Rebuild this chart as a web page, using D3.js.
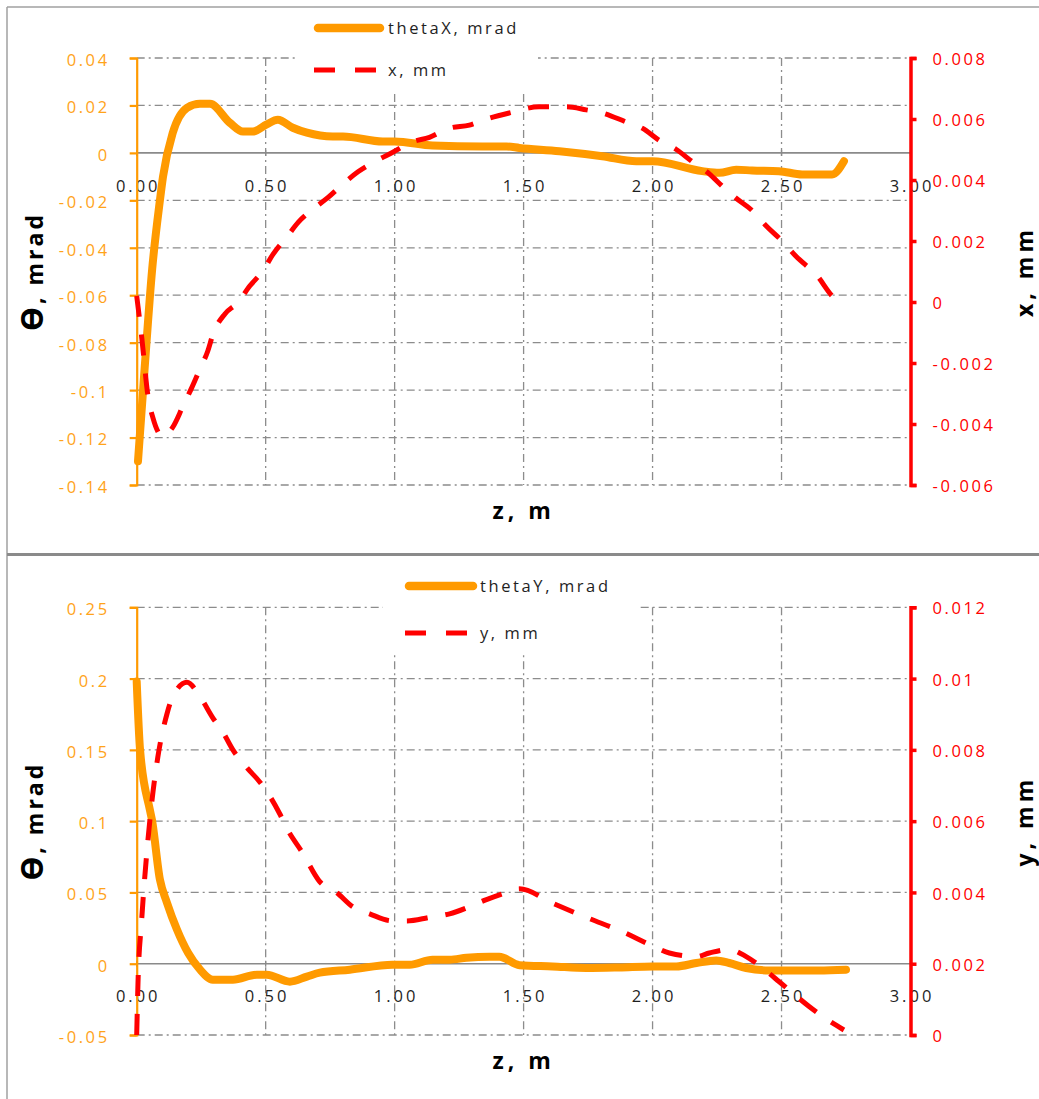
<!DOCTYPE html>
<html><head><meta charset="utf-8">
<script src="https://cdn.jsdelivr.net/npm/d3@7"></script>
<style>html,body{margin:0;padding:0;background:#fff;} svg{display:block;}</style>
</head><body>
<svg id="c" width="1039" height="1099"></svg>
<script>
// ---------- data ----------
const zTicks = [0, 0.5, 1, 1.5, 2, 2.5, 3];
const zTickLabels = ["0.00", "0.50", "1.00", "1.50", "2.00", "2.50", "3.00"];

const thetaXTicks = [0.04, 0.02, 0, -0.02, -0.04, -0.06, -0.08, -0.1, -0.12, -0.14];
const thetaXTickLabels = ["0.04", "0.02", "0", "-0.02", "-0.04", "-0.06", "-0.08", "-0.1", "-0.12", "-0.14"];
const xmmTicks = [0.008, 0.006, 0.004, 0.002, 0, -0.002, -0.004, -0.006];
const xmmTickLabels = ["0.008", "0.006", "0.004", "0.002", "0", "-0.002", "-0.004", "-0.006"];

const thetaYTicks = [0.25, 0.2, 0.15, 0.1, 0.05, 0, -0.05];
const thetaYTickLabels = ["0.25", "0.2", "0.15", "0.1", "0.05", "0", "-0.05"];
const ymmTicks = [0.012, 0.01, 0.008, 0.006, 0.004, 0.002, 0];
const ymmTickLabels = ["0.012", "0.01", "0.008", "0.006", "0.004", "0.002", "0"];

const thetaX_z = [0.005, 0.03, 0.06, 0.09, 0.102, 0.14, 0.195, 0.245, 0.284, 0.361, 0.412, 0.45, 0.504, 0.547, 0.605, 0.66, 0.76, 0.8, 0.954, 1.0, 1.147, 1.34, 1.434, 1.484, 1.639, 1.805, 1.937, 1.999, 2.193, 2.259, 2.324, 2.386, 2.49, 2.58, 2.696, 2.742];
const thetaX_val = [-0.130, -0.092, -0.049, -0.020, -0.010, 0.0085, 0.019, 0.0207, 0.0207, 0.0127, 0.009, 0.009, 0.012, 0.014, 0.0106, 0.0085, 0.0069, 0.0069, 0.0048, 0.0048, 0.0031, 0.0027, 0.0027, 0.0021, 0.0007, -0.0014, -0.0035, -0.0035, -0.0077, -0.0084, -0.0071, -0.0074, -0.0077, -0.0091, -0.0091, -0.0035];

const x_z = [0, 0.02, 0.044, 0.063, 0.10, 0.14, 0.18, 0.214, 0.245, 0.276, 0.296, 0.342, 0.393, 0.439, 0.49, 0.529, 0.581, 0.626, 0.684, 0.742, 0.8, 0.858, 0.929, 0.993, 1.065, 1.135, 1.213, 1.29, 1.356, 1.445, 1.56, 1.666, 1.743, 1.805, 1.898, 1.96, 2.026, 2.092, 2.154, 2.22, 2.27, 2.324, 2.386, 2.44, 2.502, 2.556, 2.634, 2.71, 2.75];
const x_val = [0.0002, -0.0012, -0.0031, -0.0038, -0.0044, -0.0041, -0.0034, -0.0028, -0.0022, -0.0016, -0.00105, -0.00039, -0.00001, 0.00053, 0.00103, 0.00157, 0.00212, 0.00261, 0.00305, 0.00343, 0.00387, 0.00427, 0.00463, 0.00491, 0.00524, 0.0054, 0.0057, 0.0058, 0.0060, 0.0062, 0.0064, 0.0064, 0.0063, 0.0062, 0.0059, 0.0057, 0.0053, 0.0050, 0.0046, 0.0042, 0.0038, 0.0034, 0.0030, 0.0025, 0.0020, 0.0015, 0.0009, 0.0001, 0.0];

const thetaY_z = [0, 0.013, 0.051, 0.059, 0.09, 0.117, 0.156, 0.199, 0.245, 0.295, 0.373, 0.466, 0.504, 0.594, 0.66, 0.71, 0.826, 0.992, 1.058, 1.147, 1.213, 1.279, 1.368, 1.406, 1.484, 1.612, 1.743, 1.871, 2.0, 2.092, 2.17, 2.247, 2.297, 2.363, 2.452, 2.645, 2.75];
const thetaY_val = [0.198, 0.15, 0.108, 0.101, 0.059, 0.043, 0.024, 0.0077, -0.004, -0.0112, -0.0112, -0.0077, -0.0077, -0.0126, -0.009, -0.0063, -0.0042, -0.0007, -0.0007, 0.0028, 0.0028, 0.0042, 0.0049, 0.0049, -0.001, -0.0019, -0.003, -0.0026, -0.0019, -0.0019, 0.0005, 0.0023, 0.0005, -0.003, -0.0047, -0.0047, -0.0042];

const y_z = [0, 0.005, 0.019, 0.039, 0.058, 0.082, 0.117, 0.14, 0.195, 0.245, 0.295, 0.334, 0.373, 0.427, 0.477, 0.516, 0.555, 0.582, 0.644, 0.71, 0.775, 0.837, 0.903, 0.992, 1.046, 1.135, 1.213, 1.29, 1.356, 1.434, 1.484, 1.612, 1.743, 1.883, 2.0, 2.065, 2.17, 2.22, 2.297, 2.363, 2.44, 2.49, 2.556, 2.607, 2.684, 2.742];
const y_val = [0, 0.00146, 0.0032, 0.0051, 0.0065, 0.0078, 0.0090, 0.0095, 0.0099, 0.0095, 0.0089, 0.0085, 0.0080, 0.0075, 0.0071, 0.0067, 0.0062, 0.0058, 0.0051, 0.0043, 0.0040, 0.0036, 0.0034, 0.0032, 0.0032, 0.0033, 0.0034, 0.0036, 0.0038, 0.0040, 0.0041, 0.0037, 0.0033, 0.0029, 0.0025, 0.0023, 0.0022, 0.0023, 0.0024, 0.0022, 0.0018, 0.0015, 0.0011, 0.0008, 0.0004, 0.00014];

// ---------- style ----------
const ORANGE = "#ff9a00";
const ORANGE_TXT = "#ffa31a";
const RED = "#ff0000";
const GRID = "#8c8c8c";
const FONT = "'Open Sans', Lato, sans-serif";
const TXT = "#1f1f1f";
const TW = 500;

const svg = d3.select("#c");

// panel frames
svg.append("line").attr("x1", 7).attr("x2", 1039).attr("y1", 7).attr("y2", 7).attr("stroke", "#a0a0a0").attr("stroke-width", 1.5);
svg.append("line").attr("x1", 7).attr("x2", 7).attr("y1", 7).attr("y2", 1099).attr("stroke", "#a0a0a0").attr("stroke-width", 1.5);
svg.append("line").attr("x1", 7).attr("x2", 1039).attr("y1", 554.5).attr("y2", 554.5).attr("stroke", "#8a8a8a").attr("stroke-width", 3);

const panels = [
  {
    top: 58, bottom: 485,
    leftDomain: [-0.14, 0.04], leftTicks: thetaXTicks, leftLabels: thetaXTickLabels,
    rightDomain: [-0.006, 0.008], rightTicks: xmmTicks, rightLabels: xmmTickLabels,
    s1z: thetaX_z, s1v: thetaX_val, s1name: "thetaX, mrad",
    s2z: x_z, s2v: x_val, s2name: "x, mm",
    rightTitle: "x, mm",
    legend: {x: 297, y: 10, w: 241, h: 82, lx1: 314, lx2: 384, ly1: 28, ly2: 70, tx: 388}
  },
  {
    top: 607.3, bottom: 1035,
    leftDomain: [-0.05, 0.25], leftTicks: thetaYTicks, leftLabels: thetaYTickLabels,
    rightDomain: [0, 0.012], rightTicks: ymmTicks, rightLabels: ymmTickLabels,
    s1z: thetaY_z, s1v: thetaY_val, s1name: "thetaY, mrad",
    s2z: y_z, s2v: y_val, s2name: "y, mm",
    rightTitle: "y, mm",
    legend: {x: 383, y: 560, w: 254, h: 95, lx1: 405, lx2: 477, ly1: 586, ly2: 633, tx: 480}
  }
];

const xScale = d3.scaleLinear().domain([0, 3]).range([136.7, 910.5]);

panels.forEach(p => {
  const g = svg.append("g");
  const yL = d3.scaleLinear().domain(p.leftDomain).range([p.bottom, p.top]);
  const yR = d3.scaleLinear().domain(p.rightDomain).range([p.bottom, p.top]);
  const x0 = xScale(0), x1 = xScale(3);

  // horizontal grid (primary axis)
  g.append("g").selectAll("line").data(p.leftTicks.filter(v => v !== 0)).join("line")
    .attr("x1", x0).attr("x2", x1).attr("y1", d => yL(d)).attr("y2", d => yL(d))
    .attr("stroke", GRID).attr("stroke-width", 1.3).attr("stroke-dasharray", "8,4,2,4");
  // vertical grid
  g.append("g").selectAll("line").data(zTicks.filter(v => v > 0 && v < 3)).join("line")
    .attr("x1", d => xScale(d)).attr("x2", d => xScale(d)).attr("y1", p.top).attr("y2", p.bottom)
    .attr("stroke", GRID).attr("stroke-width", 1.3).attr("stroke-dasharray", "8,4,2,4");

  // zero line (category axis)
  const y0 = yL(0);
  g.append("line").attr("x1", x0).attr("x2", x1).attr("y1", y0).attr("y2", y0)
    .attr("stroke", "#8a8a8a").attr("stroke-width", 1.6);
  g.append("g").selectAll("line").data(zTicks).join("line")
    .attr("x1", d => xScale(d)).attr("x2", d => xScale(d)).attr("y1", y0 - 3).attr("y2", y0 + 3)
    .attr("stroke", "#8a8a8a").attr("stroke-width", 1.3);

  // x tick labels
  g.append("g").selectAll("text").data(zTicks).join("text")
    .attr("x", d => xScale(d) + 1.5).attr("y", y0 + 33).attr("dy", "0.35em")
    .attr("text-anchor", "middle").attr("font-family", FONT).attr("font-size", 16.5)
    .attr("font-weight", TW).attr("letter-spacing", 3).attr("fill", TXT)
    .text((d, i) => zTickLabels[i]);

  // left axis
  const axL = d3.axisLeft(yL).tickValues(p.leftTicks).tickSize(7).tickPadding(20)
    .tickFormat((d, i) => p.leftLabels[i]);
  const gL = g.append("g").attr("transform", `translate(${x0},0)`).call(axL);
  gL.select(".domain").attr("stroke", ORANGE).attr("stroke-width", 2.2);
  gL.selectAll(".tick line").attr("stroke", ORANGE).attr("stroke-width", 2.2);
  gL.selectAll(".tick text").attr("fill", ORANGE_TXT).attr("font-family", FONT)
    .attr("font-size", 16.5).attr("font-weight", TW).attr("letter-spacing", 2.6).attr("dy", "0.45em");

  // right axis
  const axR = d3.axisRight(yR).tickValues(p.rightTicks).tickSize(6).tickPadding(16)
    .tickFormat((d, i) => p.rightLabels[i]);
  const gR = g.append("g").attr("transform", `translate(${x1},0)`).call(axR);
  gR.select(".domain").attr("stroke", RED).attr("stroke-width", 3.5);
  gR.selectAll(".tick line").attr("stroke", RED).attr("stroke-width", 3.5);
  gR.selectAll(".tick text").attr("fill", RED).attr("font-family", FONT)
    .attr("font-size", 16.5).attr("font-weight", TW).attr("letter-spacing", 2.6).attr("dy", "0.4em");

  // series
  const line1 = d3.line().x(d => xScale(d[0])).y(d => yL(d[1])).curve(d3.curveMonotoneX);
  const line2 = d3.line().x(d => xScale(d[0])).y(d => yR(d[1])).curve(d3.curveMonotoneX);
  g.append("path").datum(p.s1z.map((z, i) => [z, p.s1v[i]]))
    .attr("d", line1).attr("fill", "none").attr("stroke", ORANGE).attr("stroke-width", 8)
    .attr("stroke-linejoin", "round").attr("stroke-linecap", "round");
  g.append("path").datum(p.s2z.map((z, i) => [z, p.s2v[i]]))
    .attr("d", line2).attr("fill", "none").attr("stroke", RED).attr("stroke-width", 5)
    .attr("stroke-dasharray", "21,18");

  // legend
  const L = p.legend;
  g.append("rect").attr("x", L.x).attr("y", L.y).attr("width", L.w).attr("height", L.h).attr("fill", "#fff");
  g.append("line").attr("x1", L.lx1 + 4).attr("x2", L.lx2 - 4).attr("y1", L.ly1).attr("y2", L.ly1)
    .attr("stroke", ORANGE).attr("stroke-width", 8.5).attr("stroke-linecap", "round");
  g.append("line").attr("x1", L.lx1).attr("x2", L.lx2).attr("y1", L.ly2).attr("y2", L.ly2)
    .attr("stroke", RED).attr("stroke-width", 5).attr("stroke-dasharray", "21,20");
  g.append("text").attr("x", L.tx).attr("y", L.ly1).attr("dy", "0.35em")
    .attr("font-family", FONT).attr("font-size", 16.5).attr("font-weight", TW).attr("letter-spacing", 2.6).attr("fill", TXT).text(p.s1name);
  g.append("text").attr("x", L.tx).attr("y", L.ly2).attr("dy", "0.35em")
    .attr("font-family", FONT).attr("font-size", 16.5).attr("font-weight", TW).attr("letter-spacing", 2.6).attr("fill", TXT).text(p.s2name);

  // axis titles
  const midY = (p.top + p.bottom) / 2;
  const tl = g.append("text").attr("transform", `translate(35,${midY}) rotate(-90)`)
    .attr("text-anchor", "middle").attr("dy", "0.35em").attr("font-family", FONT)
    .attr("font-weight", "bold").attr("font-size", 23).attr("letter-spacing", 3).attr("fill", "#000");
  tl.append("tspan").attr("font-size", 30).text("Ө");
  tl.append("tspan").text(", mrad");
  g.append("text").attr("transform", `translate(1025,${midY}) rotate(-90)`)
    .attr("text-anchor", "middle").attr("dy", "0.35em").attr("font-family", FONT)
    .attr("font-weight", "bold").attr("font-size", 23).attr("letter-spacing", 4).attr("fill", "#000")
    .text(p.rightTitle);
  g.append("text").attr("x", (x0 + x1) / 2).attr("y", p.bottom + 26).attr("dy", "0.35em")
    .attr("text-anchor", "middle").attr("font-family", FONT)
    .attr("font-weight", "bold").attr("font-size", 23).attr("letter-spacing", 4).attr("fill", "#000")
    .text("z, m");
});
</script>
</body></html>
